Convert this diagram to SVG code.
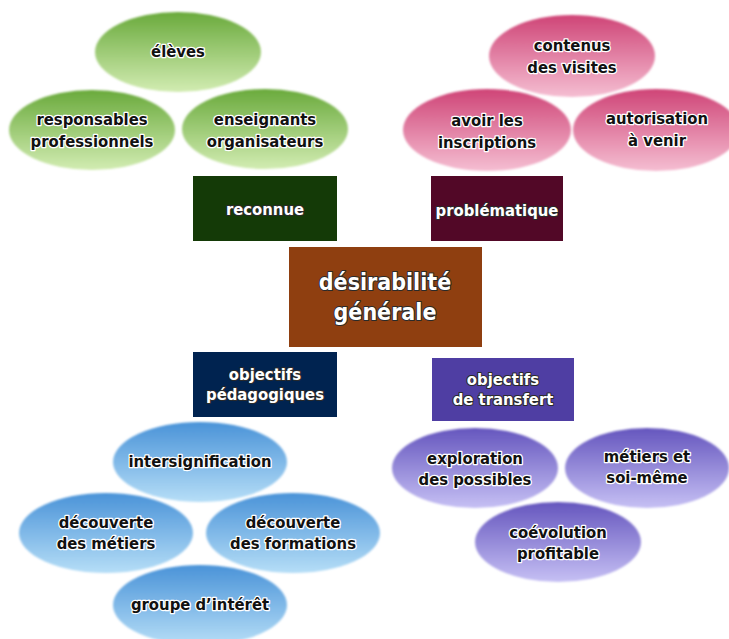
<svg xmlns="http://www.w3.org/2000/svg" width="729" height="639" viewBox="0 0 729 639">
<style>
.lbl{font-family:"DejaVu Sans Condensed","DejaVu Sans","Liberation Sans",sans-serif;font-stretch:condensed;font-weight:bold;font-size:16.5px;text-anchor:middle;fill:#111;stroke:#fff;stroke-width:2.5px;paint-order:stroke;stroke-linejoin:round}
.box{font-family:"DejaVu Sans Condensed","DejaVu Sans","Liberation Sans",sans-serif;font-stretch:condensed;font-weight:bold;font-size:16.5px;text-anchor:middle;fill:#fff;stroke:#2a2a2a;stroke-width:2px;paint-order:stroke;stroke-linejoin:round}
.big{font-size:23px}
.g{fill:url(#gGreen)}
.p{fill:url(#gPink)}
.b{fill:url(#gBlue)}
.v{fill:url(#gViolet)}
.ell{filter:url(#soft)}
</style>
<defs>
<linearGradient id="gGreen" x1="0" y1="0" x2="0" y2="1"><stop offset="0" stop-color="#6aaa3c"/><stop offset="1" stop-color="#d2ecb2"/></linearGradient>
<linearGradient id="gPink" x1="0" y1="0" x2="0" y2="1"><stop offset="0" stop-color="#cf4577"/><stop offset="1" stop-color="#f5bed2"/></linearGradient>
<linearGradient id="gBlue" x1="0" y1="0" x2="0" y2="1"><stop offset="0" stop-color="#4a93d8"/><stop offset="1" stop-color="#b6def7"/></linearGradient>
<linearGradient id="gViolet" x1="0" y1="0" x2="0" y2="1"><stop offset="0" stop-color="#6556be"/><stop offset="1" stop-color="#c6c0f4"/></linearGradient>
<filter id="soft" x="-10%" y="-15%" width="120%" height="130%"><feGaussianBlur stdDeviation="0.8"/></filter>
</defs>
<rect width="729" height="639" fill="#fff"/>

<g id="eleves"><ellipse class="g ell" cx="178" cy="52" rx="83" ry="40"/><text class="lbl" x="178" y="57">élèves</text></g>
<g id="responsables"><ellipse class="g ell" cx="92" cy="130" rx="83" ry="40"/><text class="lbl" x="92" y="125">responsables</text><text class="lbl" x="92" y="147">professionnels</text></g>
<g id="enseignants"><ellipse class="g ell" cx="265" cy="129" rx="83" ry="40"/><text class="lbl" x="265" y="125">enseignants</text><text class="lbl" x="265" y="147">organisateurs</text></g>

<g id="contenus"><ellipse class="p ell" cx="572" cy="56" rx="83" ry="41"/><text class="lbl" x="572" y="51">contenus</text><text class="lbl" x="572" y="73">des visites</text></g>
<g id="inscriptions"><ellipse class="p ell" cx="487" cy="130" rx="84" ry="41"/><text class="lbl" x="487" y="126">avoir les</text><text class="lbl" x="487" y="148">inscriptions</text></g>
<g id="autorisation"><ellipse class="p ell" cx="656" cy="130" rx="83" ry="41"/><text class="lbl" x="657" y="124">autorisation</text><text class="lbl" x="657" y="146">à venir</text></g>

<g id="reconnue"><rect x="193" y="176" width="144" height="65" fill="#143a07"/><text class="box" x="265" y="215">reconnue</text></g>
<g id="problematique"><rect x="431" y="176" width="132" height="65" fill="#520827"/><text class="box" x="497" y="216">problématique</text></g>
<g id="desirabilite"><rect x="289" y="247" width="193" height="100" fill="#8f3f10"/><text class="box big" x="385" y="290">désirabilité</text><text class="box big" x="385" y="320">générale</text></g>
<g id="pedagogiques"><rect x="193" y="352" width="144" height="65" fill="#002350"/><text class="box" x="265" y="380">objectifs</text><text class="box" x="265" y="400">pédagogiques</text></g>
<g id="transfert"><rect x="432" y="358" width="142" height="63" fill="#4f3ea3"/><text class="box" x="503" y="385">objectifs</text><text class="box" x="503" y="405">de transfert</text></g>

<g id="intersignification"><ellipse class="b ell" cx="200" cy="462" rx="87" ry="40"/><text class="lbl" x="200" y="467">intersignification</text></g>
<g id="decouverte-metiers"><ellipse class="b ell" cx="106" cy="533" rx="87" ry="40"/><text class="lbl" x="106" y="528">découverte</text><text class="lbl" x="106" y="549">des métiers</text></g>
<g id="decouverte-formations"><ellipse class="b ell" cx="293" cy="533" rx="87" ry="40"/><text class="lbl" x="293" y="528">découverte</text><text class="lbl" x="293" y="549">des formations</text></g>
<g id="groupe"><ellipse class="b ell" cx="200" cy="605" rx="87" ry="40"/><text class="lbl" x="200" y="610">groupe d’intérêt</text></g>

<g id="exploration"><ellipse class="v ell" cx="475" cy="468" rx="83" ry="40"/><text class="lbl" x="475" y="464">exploration</text><text class="lbl" x="475" y="485">des possibles</text></g>
<g id="metiers-soi"><ellipse class="v ell" cx="647" cy="468" rx="82" ry="40"/><text class="lbl" x="647" y="462">métiers et</text><text class="lbl" x="647" y="483">soi-même</text></g>
<g id="coevolution"><ellipse class="v ell" cx="558" cy="542" rx="83" ry="40"/><text class="lbl" x="558" y="538">coévolution</text><text class="lbl" x="558" y="559">profitable</text></g>

<g id="connectors"></g>
</svg>
